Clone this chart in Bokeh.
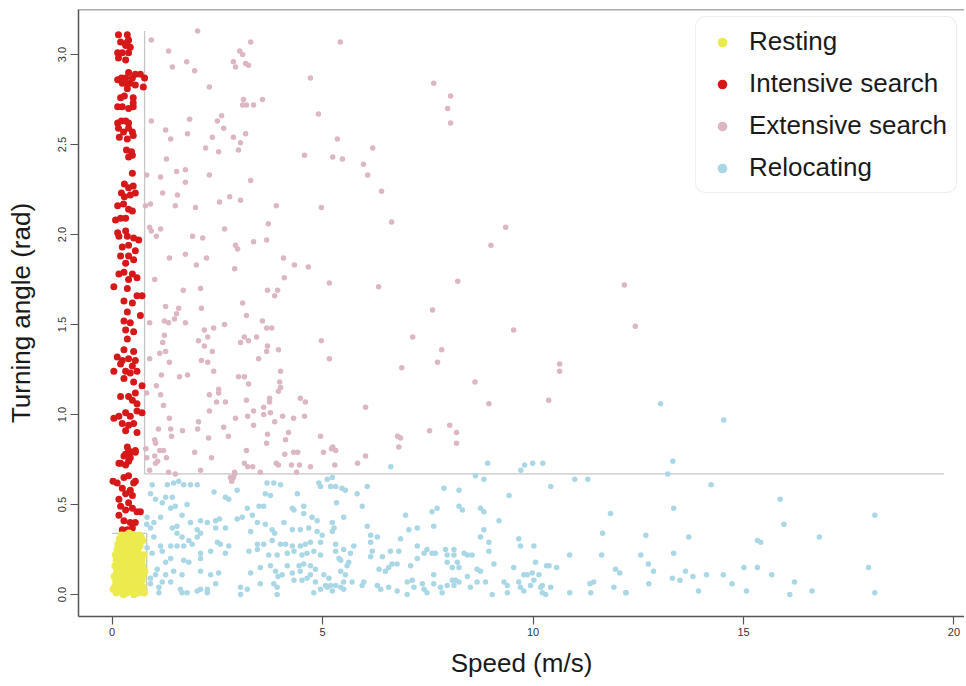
from bokeh.plotting import figure
from bokeh.models import Range1d, Legend, LegendItem, Span, FixedTicker, NumeralTickFormatter
from bokeh.embed import file_html
from bokeh.resources import INLINE

# ---------------- data (speed m/s, turning angle rad) ----------------
resting = [
    (0.10, 0.01), (0.19, 0.02), (0.27, 0.00), (0.35, 0.01), (0.44, 0.02), (0.52, 0.00), (0.61, 0.01), (0.69, 0.02), (0.76, 0.01),
    (0.06, 0.04), (0.14, 0.05), (0.23, 0.04), (0.31, 0.03), (0.40, 0.05), (0.49, 0.04), (0.57, 0.03), (0.65, 0.05), (0.73, 0.04),
    (0.09, 0.07), (0.19, 0.08), (0.26, 0.07), (0.36, 0.06), (0.45, 0.08), (0.53, 0.07), (0.62, 0.06), (0.71, 0.08),
    (0.05, 0.10), (0.13, 0.11), (0.22, 0.10), (0.30, 0.09), (0.39, 0.11), (0.47, 0.10), (0.56, 0.12), (0.66, 0.10), (0.74, 0.11),
    (0.11, 0.13), (0.17, 0.14), (0.28, 0.13), (0.34, 0.15), (0.43, 0.13), (0.51, 0.14), (0.60, 0.13), (0.68, 0.15), (0.77, 0.13),
    (0.07, 0.16), (0.15, 0.17), (0.24, 0.16), (0.33, 0.18), (0.41, 0.16), (0.50, 0.17), (0.58, 0.16), (0.67, 0.18), (0.72, 0.16),
    (0.10, 0.19), (0.20, 0.20), (0.29, 0.19), (0.37, 0.21), (0.46, 0.19), (0.55, 0.20), (0.63, 0.21), (0.70, 0.19),
    (0.08, 0.22), (0.16, 0.23), (0.25, 0.22), (0.34, 0.24), (0.42, 0.22), (0.53, 0.23), (0.61, 0.24), (0.75, 0.22),
    (0.12, 0.25), (0.21, 0.26), (0.30, 0.25), (0.39, 0.27), (0.48, 0.25), (0.57, 0.26), (0.66, 0.27),
    (0.14, 0.28), (0.23, 0.29), (0.33, 0.28), (0.44, 0.30), (0.50, 0.28), (0.62, 0.29), (0.72, 0.30),
    (0.18, 0.31), (0.27, 0.32), (0.36, 0.31), (0.47, 0.32), (0.58, 0.31), (0.68, 0.32),
    (0.22, 0.33), (0.31, 0.33), (0.40, 0.34), (0.52, 0.33), (0.64, 0.33),
    (0.03, 0.03), (0.15, 0.09), (0.26, 0.12), (0.41, 0.08), (0.58, 0.09), (0.70, 0.12), (0.21, 0.16),
    (0.46, 0.15), (0.63, 0.17), (0.36, 0.24), (0.18, 0.07), (0.49, 0.02), (0.33, 0.04),
]

intensive = [
    (0.15, 3.11), (0.36, 3.11), (0.39, 3.08), (0.20, 3.07), (0.32, 3.05), (0.13, 3.01), (0.24, 3.01), (0.39, 3.01),
    (0.15, 2.98), (0.32, 2.97), (0.43, 3.04), (0.36, 3.07),
    (0.13, 2.86), (0.22, 2.87), (0.32, 2.87), (0.39, 2.90), (0.48, 2.87), (0.55, 2.89), (0.67, 2.89), (0.77, 2.87),
    (0.74, 2.82), (0.55, 2.83), (0.43, 2.84), (0.32, 2.84), (0.24, 2.84), (0.36, 2.81),
    (0.20, 2.76), (0.29, 2.77), (0.50, 2.76), (0.13, 2.71), (0.24, 2.71), (0.39, 2.70), (0.50, 2.71), (0.50, 2.73),
    (0.13, 2.62), (0.22, 2.63), (0.32, 2.63), (0.39, 2.62), (0.15, 2.59), (0.39, 2.59), (0.48, 2.57), (0.50, 2.55),
    (0.27, 2.57), (0.17, 2.54), (0.36, 2.53),
    (0.34, 2.47), (0.46, 2.46), (0.48, 2.44), (0.39, 2.43), (0.48, 2.34),
    (0.29, 2.28), (0.39, 2.26), (0.50, 2.27), (0.22, 2.23), (0.29, 2.21), (0.43, 2.22), (0.55, 2.23), (0.13, 2.16),
    (0.27, 2.17), (0.39, 2.14), (0.48, 2.13), (0.08, 2.08), (0.20, 2.09), (0.32, 2.09), (0.13, 2.01), (0.32, 2.02),
    (0.16, 1.99), (0.36, 1.99), (0.51, 1.98), (0.63, 1.97), (0.24, 1.93), (0.39, 1.94), (0.55, 1.91), (0.20, 1.88),
    (0.39, 1.88), (0.51, 1.86), (0.32, 1.84), (0.16, 1.78), (0.28, 1.79), (0.48, 1.78), (0.39, 1.75), (0.59, 1.76),
    (0.04, 1.71), (0.36, 1.70), (0.59, 1.66), (0.71, 1.66), (0.28, 1.63), (0.48, 1.62), (0.36, 1.57), (0.67, 1.55),
    (0.28, 1.52), (0.43, 1.51), (0.32, 1.47), (0.51, 1.46), (0.36, 1.42), (0.28, 1.36), (0.51, 1.35), (0.12, 1.32),
    (0.24, 1.30), (0.39, 1.31), (0.55, 1.30), (0.20, 1.28), (0.48, 1.27), (0.04, 1.24), (0.32, 1.24), (0.43, 1.23),
    (0.59, 1.24), (0.28, 1.20), (0.51, 1.18), (0.71, 1.16), (0.20, 1.10), (0.39, 1.10), (0.55, 1.12), (0.48, 1.08),
    (0.59, 1.06), (0.16, 0.99), (0.32, 1.01), (0.43, 0.99), (0.59, 1.02), (0.71, 1.01), (0.04, 0.98), (0.24, 0.95),
    (0.39, 0.94), (0.51, 0.95), (0.59, 0.90), (0.32, 0.91), (0.39, 0.80), (0.55, 0.80), (0.28, 0.77), (0.43, 0.76),
    (0.16, 0.73), (0.32, 0.72),
    (0.36, 0.82), (0.32, 0.78), (0.43, 0.79), (0.55, 0.79), (0.20, 0.73), (0.39, 0.74), (0.02, 0.63), (0.12, 0.62),
    (0.28, 0.65), (0.39, 0.66), (0.51, 0.62), (0.55, 0.63), (0.24, 0.59), (0.43, 0.58), (0.48, 0.55), (0.16, 0.53),
    (0.32, 0.56), (0.39, 0.51), (0.20, 0.49), (0.32, 0.47), (0.48, 0.48), (0.59, 0.46), (0.67, 0.46), (0.16, 0.44),
    (0.28, 0.41), (0.43, 0.40), (0.55, 0.40), (0.24, 0.36), (0.36, 0.36), (0.48, 0.37),
]

extensive = [
    (0.93, 3.08), (2.03, 3.13), (1.34, 3.02), (1.43, 2.93), (1.77, 2.96), (1.96, 2.91), (2.88, 2.96), (2.93, 2.93),
    (3.03, 3.02), (3.10, 3.00), (3.17, 2.95), (3.24, 2.94), (3.29, 3.07), (2.31, 2.82), (5.42, 3.07), (4.71, 2.87),
    (3.12, 2.75), (3.10, 2.72), (3.19, 2.72), (3.36, 2.72), (3.57, 2.75), (4.90, 2.67), (0.93, 2.63), (1.84, 2.64),
    (2.50, 2.63), (2.60, 2.66), (2.65, 2.59), (1.27, 2.58), (1.39, 2.53), (1.79, 2.56), (2.38, 2.54), (2.88, 2.54),
    (3.17, 2.56), (3.05, 2.51), (3.00, 2.47), (2.22, 2.48), (2.53, 2.46), (1.29, 2.42), (5.35, 2.53), (6.19, 2.48),
    (4.57, 2.44), (5.24, 2.43), (5.47, 2.42), (5.97, 2.39), (6.07, 2.33), (6.40, 2.24), (6.64, 2.07), (0.82, 2.33),
    (1.15, 2.32), (1.53, 2.35), (1.74, 2.36), (1.74, 2.29), (2.31, 2.33), (3.29, 2.30), (1.20, 2.23), (1.55, 2.22),
    (0.79, 2.16), (0.91, 2.17), (1.50, 2.16), (1.98, 2.15), (2.55, 2.18), (2.79, 2.21), (3.05, 2.19), (3.90, 2.16),
    (4.97, 2.15), (0.89, 2.04), (0.93, 2.02), (1.15, 2.03), (2.67, 2.03), (3.71, 2.06), (1.91, 1.99), (2.15, 1.98),
    (1.05, 1.99), (7.64, 2.84), (8.04, 2.77), (7.97, 2.70), (8.04, 2.62), (9.35, 2.04), (9.00, 1.94), (8.21, 1.74),
    (12.17, 1.72), (12.43, 1.49), (7.61, 1.58), (9.54, 1.47), (7.14, 1.43), (7.83, 1.36), (7.73, 1.29), (6.88, 1.26),
    (8.62, 1.18), (8.95, 1.06), (10.63, 1.28), (10.63, 1.24), (10.37, 1.08), (8.02, 0.94), (7.54, 0.91), (8.18, 0.90),
    (8.18, 0.84), (6.85, 0.87),
    (2.93, 1.94), (2.98, 1.92), (3.36, 1.96), (3.67, 1.97), (1.36, 1.87), (1.74, 1.89), (2.00, 1.83), (2.24, 1.87),
    (2.91, 1.81), (4.07, 1.87), (4.33, 1.83), (4.66, 1.82), (1.01, 1.75), (1.69, 1.69), (2.10, 1.70), (3.69, 1.69),
    (3.93, 1.69), (3.86, 1.66), (4.09, 1.76), (5.16, 1.73), (6.33, 1.71), (1.27, 1.60), (1.58, 1.59), (1.53, 1.56),
    (1.48, 1.53), (2.12, 1.59), (3.10, 1.62), (3.19, 1.55), (0.89, 1.51), (1.24, 1.52), (1.34, 1.51), (1.74, 1.51),
    (2.19, 1.47), (2.41, 1.48), (2.67, 1.50), (3.57, 1.52), (3.67, 1.48), (3.79, 1.48), (1.24, 1.44), (3.14, 1.43),
    (3.43, 1.43), (2.05, 1.41), (2.27, 1.43), (3.05, 1.40), (3.24, 1.41), (1.20, 1.40), (2.19, 1.38), (3.69, 1.38),
    (3.95, 1.36), (4.97, 1.41), (1.13, 1.34), (1.27, 1.35), (2.38, 1.35), (3.67, 1.35), (0.89, 1.31), (1.36, 1.29),
    (2.12, 1.30), (2.27, 1.29), (3.48, 1.31), (5.16, 1.31), (1.17, 1.22), (1.60, 1.21), (1.79, 1.22), (2.41, 1.24),
    (3.00, 1.21), (3.14, 1.21), (3.24, 1.17), (4.00, 1.24), (0.82, 1.12), (1.05, 1.16), (1.15, 1.11), (2.31, 1.11),
    (2.53, 1.14), (2.53, 1.12), (3.98, 1.18), (4.00, 1.15), (3.95, 1.13), (2.48, 1.07), (2.69, 1.07), (3.19, 1.08),
    (3.74, 1.09), (3.74, 1.07), (4.47, 1.09), (4.59, 1.07), (1.22, 1.05), (2.31, 1.02), (2.93, 0.98), (3.22, 0.99),
    (3.36, 1.02), (3.60, 1.04), (3.60, 1.00), (3.76, 1.01), (4.05, 0.99), (4.31, 0.98), (4.57, 0.99), (6.02, 1.04),
    (1.36, 0.98), (2.05, 0.96), (3.86, 0.96), (1.10, 0.92), (1.39, 0.92), (1.67, 0.91), (2.03, 0.92), (2.65, 0.93),
    (3.36, 0.94), (3.69, 0.89), (4.19, 0.90), (1.41, 0.88), (2.29, 0.87), (2.76, 0.88), (4.95, 0.88), (6.78, 0.88),
    (1.01, 0.86), (1.03, 0.84), (3.67, 0.84), (4.12, 0.86), (0.80, 0.81), (1.13, 0.80), (1.22, 0.80), (3.19, 0.80),
    (5.21, 0.81), (5.31, 0.80), (6.81, 0.82), (0.82, 0.76), (1.01, 0.77), (1.29, 0.76), (1.96, 0.79), (2.36, 0.76),
    (4.10, 0.78), (4.31, 0.79), (4.41, 0.79), (5.02, 0.79), (6.02, 0.77), (1.08, 0.74), (1.03, 0.73), (3.14, 0.73),
    (3.22, 0.71), (3.34, 0.71), (3.90, 0.73), (3.95, 0.72), (4.26, 0.72), (4.45, 0.72), (4.71, 0.71), (5.29, 0.72),
    (5.83, 0.73), (0.89, 0.69), (1.34, 0.68), (2.10, 0.69), (2.91, 0.68), (2.91, 0.67), (2.81, 0.65), (3.52, 0.68),
    (4.38, 0.68), (5.24, 0.82), (1.50, 0.67), (2.88, 0.65), (2.84, 0.63),
]

relocating = [
    (0.95, 0.61), (1.31, 0.61), (1.46, 0.62), (1.58, 0.63), (1.70, 0.61), (1.86, 0.61), (2.02, 0.61), (0.91, 0.56),
    (1.03, 0.53), (1.27, 0.54), (1.43, 0.54), (1.19, 0.51), (1.50, 0.49), (1.78, 0.50), (1.39, 0.48), (1.66, 0.44),
    (1.15, 0.43), (0.83, 0.43), (0.82, 0.39), (0.91, 0.37), (0.99, 0.40), (1.43, 0.37), (1.54, 0.38), (1.86, 0.40),
    (2.02, 0.36), (2.10, 0.41), (2.26, 0.40), (2.46, 0.41), (2.46, 0.37), (2.69, 0.37), (2.55, 0.42), (1.54, 0.34),
    (1.66, 0.32), (1.82, 0.30), (1.90, 0.28), (2.02, 0.32), (2.10, 0.34), (0.99, 0.32), (1.15, 0.27), (0.83, 0.26),
    (0.95, 0.23), (1.19, 0.24), (1.39, 0.27), (1.54, 0.27), (1.70, 0.27), (2.50, 0.29), (2.57, 0.28), (2.77, 0.27),
    (2.69, 0.23), (2.34, 0.24), (2.10, 0.23), (2.10, 0.20), (1.70, 0.19), (1.82, 0.18), (1.39, 0.20), (1.27, 0.18),
    (1.07, 0.14), (1.03, 0.11), (0.91, 0.09), (0.91, 0.06), (1.27, 0.11), (1.46, 0.13), (1.66, 0.11), (2.10, 0.13),
    (2.34, 0.11), (2.53, 0.12), (2.46, 0.06), (1.19, 0.07), (1.39, 0.07), (1.62, 0.03), (1.66, 0.01), (1.78, 0.01),
    (2.02, 0.02), (2.10, 0.03), (2.26, 0.03), (2.26, 0.01), (1.11, 0.01), (1.11, 0.04), (3.05, 0.04), (3.05, 0.00),
    (3.21, 0.03), (3.52, 0.06), (3.92, 0.04), (3.92, 0.00), (3.84, 0.06), (4.04, 0.11), (4.32, 0.08), (4.51, 0.08),
    (4.79, 0.01), (4.95, 0.03), (5.11, 0.04), (5.19, 0.05), (2.42, 0.57), (2.69, 0.54), (2.77, 0.53), (2.97, 0.58),
    (3.21, 0.48), (3.33, 0.44), (3.49, 0.49), (3.60, 0.49), (3.64, 0.56), (3.76, 0.55), (3.68, 0.62), (3.84, 0.62),
    (4.00, 0.61), (4.40, 0.56), (4.28, 0.48), (4.32, 0.47), (4.55, 0.45), (4.75, 0.43), (4.87, 0.41), (4.55, 0.49),
    (4.91, 0.62), (4.95, 0.60), (5.11, 0.64), (2.97, 0.42), (3.09, 0.43), (3.29, 0.35), (3.45, 0.40), (3.64, 0.39),
    (3.80, 0.36), (3.86, 0.34), (4.08, 0.40), (4.28, 0.36), (4.47, 0.36), (4.67, 0.37), (4.87, 0.35), (4.99, 0.33),
    (3.45, 0.28), (3.60, 0.28), (3.80, 0.30), (4.00, 0.28), (4.12, 0.28), (4.28, 0.27), (4.47, 0.27), (4.59, 0.28),
    (4.71, 0.29), (4.95, 0.29), (3.25, 0.24), (3.45, 0.25), (3.72, 0.22), (3.92, 0.22), (4.16, 0.23), (4.32, 0.24),
    (4.51, 0.22), (4.63, 0.23), (4.79, 0.24), (4.95, 0.22), (3.29, 0.12), (3.52, 0.15), (3.76, 0.16), (3.88, 0.13),
    (4.16, 0.16), (4.44, 0.16), (4.55, 0.17), (4.71, 0.16), (4.83, 0.14), (5.03, 0.11), (3.94, 0.10), (4.28, 0.12),
    (4.47, 0.13), (4.71, 0.11), (4.83, 0.07), (4.63, 0.09),
    (5.23, 0.65), (5.31, 0.60), (5.46, 0.59), (5.54, 0.58), (5.19, 0.60), (5.82, 0.56), (6.06, 0.60), (5.33, 0.51),
    (5.94, 0.49), (5.50, 0.43), (5.23, 0.40), (5.27, 0.37), (5.23, 0.35), (6.06, 0.38), (6.14, 0.33), (6.30, 0.32),
    (5.31, 0.28), (5.31, 0.24), (5.50, 0.25), (5.74, 0.27), (5.66, 0.23), (5.39, 0.20), (5.43, 0.19), (5.62, 0.18),
    (5.58, 0.16), (6.14, 0.29), (6.18, 0.24), (6.14, 0.21), (6.42, 0.21), (6.61, 0.24), (6.81, 0.24), (6.85, 0.31),
    (6.97, 0.44), (7.05, 0.36), (7.25, 0.37), (7.60, 0.46), (7.72, 0.48), (7.64, 0.38), (7.88, 0.59), (8.24, 0.58),
    (8.24, 0.49), (8.32, 0.47), (8.75, 0.48), (8.83, 0.46), (8.83, 0.36), (8.75, 0.32), (8.95, 0.29), (8.95, 0.24),
    (9.19, 0.41), (9.43, 0.55), (9.66, 0.31), (9.70, 0.27), (10.02, 0.27), (10.06, 0.18), (10.42, 0.60), (10.38, 0.16),
    (7.25, 0.27), (7.25, 0.20), (7.09, 0.16), (6.65, 0.17), (6.57, 0.15), (6.49, 0.13), (6.77, 0.17), (6.34, 0.14),
    (5.43, 0.13), (5.54, 0.11), (5.50, 0.07), (5.70, 0.07), (5.43, 0.04), (5.50, 0.03), (5.31, 0.05), (5.07, 0.05),
    (5.15, 0.09), (5.23, 0.02), (5.98, 0.07), (5.94, 0.05), (6.30, 0.05), (6.38, 0.03), (6.57, 0.04), (6.77, 0.02),
    (7.01, 0.00), (7.01, 0.07), (7.13, 0.08), (7.17, 0.04), (7.37, 0.06), (7.41, 0.03), (7.48, 0.01), (7.64, 0.06),
    (7.64, 0.11), (7.80, 0.04), (7.84, 0.01), (7.96, 0.05), (8.08, 0.08), (8.12, 0.05), (8.16, 0.08), (8.24, 0.07),
    (8.44, 0.10), (8.51, 0.04), (8.67, 0.07), (8.87, 0.07), (9.03, 0.00), (9.31, 0.07), (9.39, 0.05), (9.39, 0.01),
    (9.66, 0.07), (9.70, 0.04), (9.78, 0.02), (9.94, 0.05), (10.02, 0.08), (10.22, 0.05), (10.22, 0.01), (9.86, 0.11),
    (9.98, 0.12), (10.14, 0.11), (7.41, 0.23), (7.60, 0.23), (7.68, 0.23), (7.96, 0.22), (8.12, 0.22), (7.96, 0.18),
    (8.08, 0.15), (8.20, 0.18), (8.24, 0.15), (8.44, 0.22), (8.36, 0.23), (8.55, 0.22), (8.67, 0.14), (8.75, 0.13),
    (9.07, 0.17), (9.54, 0.15), (9.78, 0.11), (7.48, 0.25), (7.92, 0.25), (8.12, 0.25),
    (8.63, 0.66), (8.83, 0.64), (8.92, 0.73), (9.71, 0.69), (9.80, 0.72), (9.99, 0.73), (10.23, 0.73), (6.62, 0.71),
    (10.99, 0.64), (11.30, 0.64), (11.84, 0.45), (11.65, 0.34), (11.63, 0.22), (10.87, 0.22), (10.32, 0.16), (10.56, 0.15),
    (11.96, 0.14), (12.06, 0.12), (11.44, 0.07), (11.35, 0.06), (10.87, 0.01), (11.37, 0.01), (11.92, 0.04), (12.20, 0.01),
    (10.18, 0.04), (10.42, 0.04), (10.30, 0.00),
    (13.32, 0.74), (13.20, 0.67), (14.23, 0.61), (13.34, 0.48), (15.87, 0.53), (15.96, 0.39), (12.68, 0.33), (13.70, 0.32),
    (15.33, 0.30), (15.41, 0.29), (16.80, 0.32), (18.12, 0.44), (13.34, 0.23), (12.56, 0.22), (12.74, 0.17), (12.86, 0.13),
    (13.62, 0.13), (13.31, 0.09), (13.49, 0.08), (13.80, 0.10), (14.12, 0.11), (14.52, 0.11), (15.01, 0.15), (15.33, 0.15),
    (15.67, 0.11), (14.73, 0.06), (12.75, 0.06), (12.21, 0.01), (13.93, 0.02), (15.07, 0.02), (16.10, 0.00), (16.21, 0.07),
    (16.63, 0.02), (17.97, 0.15), (18.12, 0.01), (13.03, 1.06), (14.53, 0.97),
]

state_labels = ["Resting", "Intensive search", "Extensive search", "Relocating"]
state_colors = ["#ebeb4f", "#d61818", "#dcb6c2", "#a9d7e6"]

x_ticks = [0, 5, 10, 15, 20]
y_ticks = [0.0, 0.5, 1.0, 1.5, 2.0, 2.5, 3.0]

# classification thresholds drawn as grey guide lines
speed_cut_high = 0.77      # vertical line above the low-angle band
speed_cut_rest = 0.82      # right edge of resting box
angle_cut_rest = 0.34      # top of resting box
angle_cut_high = 0.67      # horizontal line separating extensive/relocating
angle_line_top = 3.13
speed_line_max = 19.76

# ---------------- figure ----------------
p = figure(width=964, height=684, output_backend="svg", toolbar_location=None,
           x_range=Range1d(-0.80, 20.25), y_range=Range1d(-0.122, 3.25),
           min_border_left=78, min_border_right=0, min_border_top=9, min_border_bottom=68)
p.background_fill_color = "white"
p.border_fill_color = "white"
p.outline_line_color = None
p.grid.visible = False

# guide lines
p.segment(x0=[speed_cut_high, speed_cut_high, 0.0, speed_cut_rest],
          y0=[angle_cut_high, angle_cut_high, angle_cut_rest, 0.0],
          x1=[speed_cut_high, speed_line_max, speed_cut_rest, speed_cut_rest],
          y1=[angle_line_top, angle_cut_high, angle_cut_rest, angle_cut_rest],
          line_color="#c6c6c6", line_width=1.3)

def xs(pts):
    return [a for a, b in pts]

def ys(pts):
    return [b for a, b in pts]

r_ext = p.scatter(xs(extensive), ys(extensive), size=5.5, fill_color=state_colors[2], line_color=None)
r_rel = p.scatter(xs(relocating), ys(relocating), size=5.5, fill_color=state_colors[3], line_color=None)
r_int = p.scatter(xs(intensive), ys(intensive), size=7, fill_color=state_colors[1], line_color=None)
r_rest = p.scatter(xs(resting), ys(resting), size=7.5, fill_color=state_colors[0], line_color=None)

# top border line of the box
p.add_layout(Span(location=3.25, dimension="width", line_color="#555555", line_width=1.5))

# axes
for ax in (p.xaxis[0], p.yaxis[0]):
    ax.axis_line_color = "#555555"
    ax.axis_line_width = 1.5
    ax.major_tick_line_color = "#555555"
    ax.major_tick_line_width = 1.2
    ax.major_tick_out = 8
    ax.major_tick_in = 0
    ax.minor_tick_line_color = None
    ax.major_label_text_font = "Liberation Sans"
    ax.major_label_text_font_size = "11px"
    ax.major_label_text_color = "#333333"
    ax.axis_label_text_font = "Liberation Sans"
    ax.axis_label_text_font_size = "26px"
    ax.axis_label_text_font_style = "normal"
    ax.axis_label_text_color = "#1a1a1a"

p.xaxis[0].ticker = FixedTicker(ticks=x_ticks)
p.xaxis[0].axis_label = "Speed (m/s)"
p.xaxis[0].major_label_standoff = 3
p.xaxis[0].axis_label_standoff = 9

p.yaxis[0].ticker = FixedTicker(ticks=y_ticks)
p.yaxis[0].formatter = NumeralTickFormatter(format="0.0")
p.yaxis[0].major_label_orientation = "vertical"
p.yaxis[0].axis_label = "Turning angle (rad)"
p.yaxis[0].major_label_standoff = 4
p.yaxis[0].axis_label_standoff = 20

# legend
legend = Legend(items=[LegendItem(label=state_labels[0], renderers=[r_rest]),
                       LegendItem(label=state_labels[1], renderers=[r_int]),
                       LegendItem(label=state_labels[2], renderers=[r_ext]),
                       LegendItem(label=state_labels[3], renderers=[r_rel])],
                location=(617, 423))
legend.label_text_font = "Liberation Sans"
legend.label_text_font_size = "26px"
legend.label_text_color = "#1a1a1a"
legend.label_height = 24
legend.glyph_height = 24
legend.glyph_width = 34
legend.spacing = 11
legend.padding = 9
legend.margin = 0
legend.label_standoff = 10
legend.border_line_color = "#dddddd"
legend.border_line_width = 1
legend.background_fill_color = "white"
legend.background_fill_alpha = 1.0
if "border_radius" in Legend.properties():
    legend.border_radius = 10
p.add_layout(legend)

open("out.html", "w").write(file_html(p, INLINE))
